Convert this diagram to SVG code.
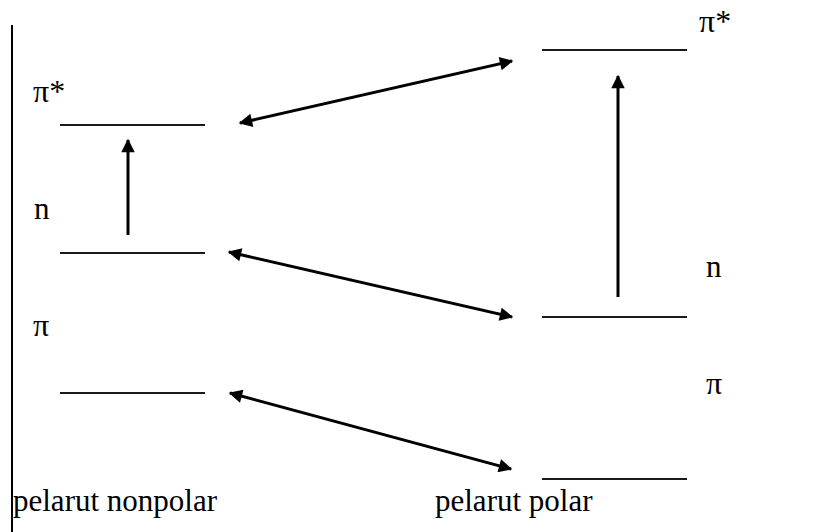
<svg xmlns="http://www.w3.org/2000/svg" width="818" height="532" viewBox="0 0 818 532">
  <style>
    .lvl { stroke: #1a1a1a; stroke-width: 2; fill: none; }
    .arr { stroke: #000; stroke-width: 3; fill: none; }
    .lbl { font-family: "Liberation Serif", "Times New Roman", serif; font-size: 31px; fill: #000; }
    .sym { font-family: "Liberation Serif", "Times New Roman", serif; font-size: 32px; fill: #000; }
  </style>
  <defs>
    <marker id="head" viewBox="0 0 10 10" refX="9" refY="5" markerWidth="5.5" markerHeight="4.5" markerUnits="strokeWidth" orient="auto-start-reverse">
      <path d="M0,0 L10,5 L0,10 z" fill="#000"/>
    </marker>
  </defs>
  <rect width="818" height="532" fill="#fff"/>

  <!-- axis -->
  <line x1="12" y1="25" x2="12" y2="532" stroke="#000" stroke-width="2"/>

  <!-- nonpolar solvent levels -->
  <g id="np-pistar"><line class="lvl" x1="60" y1="125" x2="205" y2="125"/><text class="sym" x="33" y="102">π*</text></g>
  <g id="np-n"><line class="lvl" x1="60" y1="253" x2="205" y2="253"/><text class="lbl" x="34" y="219">n</text></g>
  <g id="np-pi"><line class="lvl" x1="60" y1="393" x2="205" y2="393"/><text class="sym" x="33" y="336">π</text></g>

  <!-- polar solvent levels -->
  <g id="p-pistar"><line class="lvl" x1="542" y1="50" x2="687" y2="50"/><text class="sym" x="699" y="32">π*</text></g>
  <g id="p-n"><line class="lvl" x1="542" y1="317" x2="687" y2="317"/><text class="lbl" x="706" y="277">n</text></g>
  <g id="p-pi"><line class="lvl" x1="542" y1="479" x2="687" y2="479"/><text class="sym" x="706" y="394">π</text></g>

  <g id="labels">
    <text class="lbl" x="13" y="511">pelarut nonpolar</text>
    <text class="lbl" x="435" y="511">pelarut polar</text>
  </g>

  <!-- transitions and level shifts -->
  <g id="connectors">
    <line class="arr" x1="128" y1="235" x2="128" y2="140" marker-end="url(#head)"/>
    <line class="arr" x1="618" y1="297" x2="618" y2="76" marker-end="url(#head)"/>
    <line class="arr" x1="240" y1="123" x2="512" y2="61" marker-start="url(#head)" marker-end="url(#head)"/>
    <line class="arr" x1="229" y1="252" x2="512" y2="317" marker-start="url(#head)" marker-end="url(#head)"/>
    <line class="arr" x1="230" y1="393" x2="511" y2="469" marker-start="url(#head)" marker-end="url(#head)"/>
  </g>
</svg>
